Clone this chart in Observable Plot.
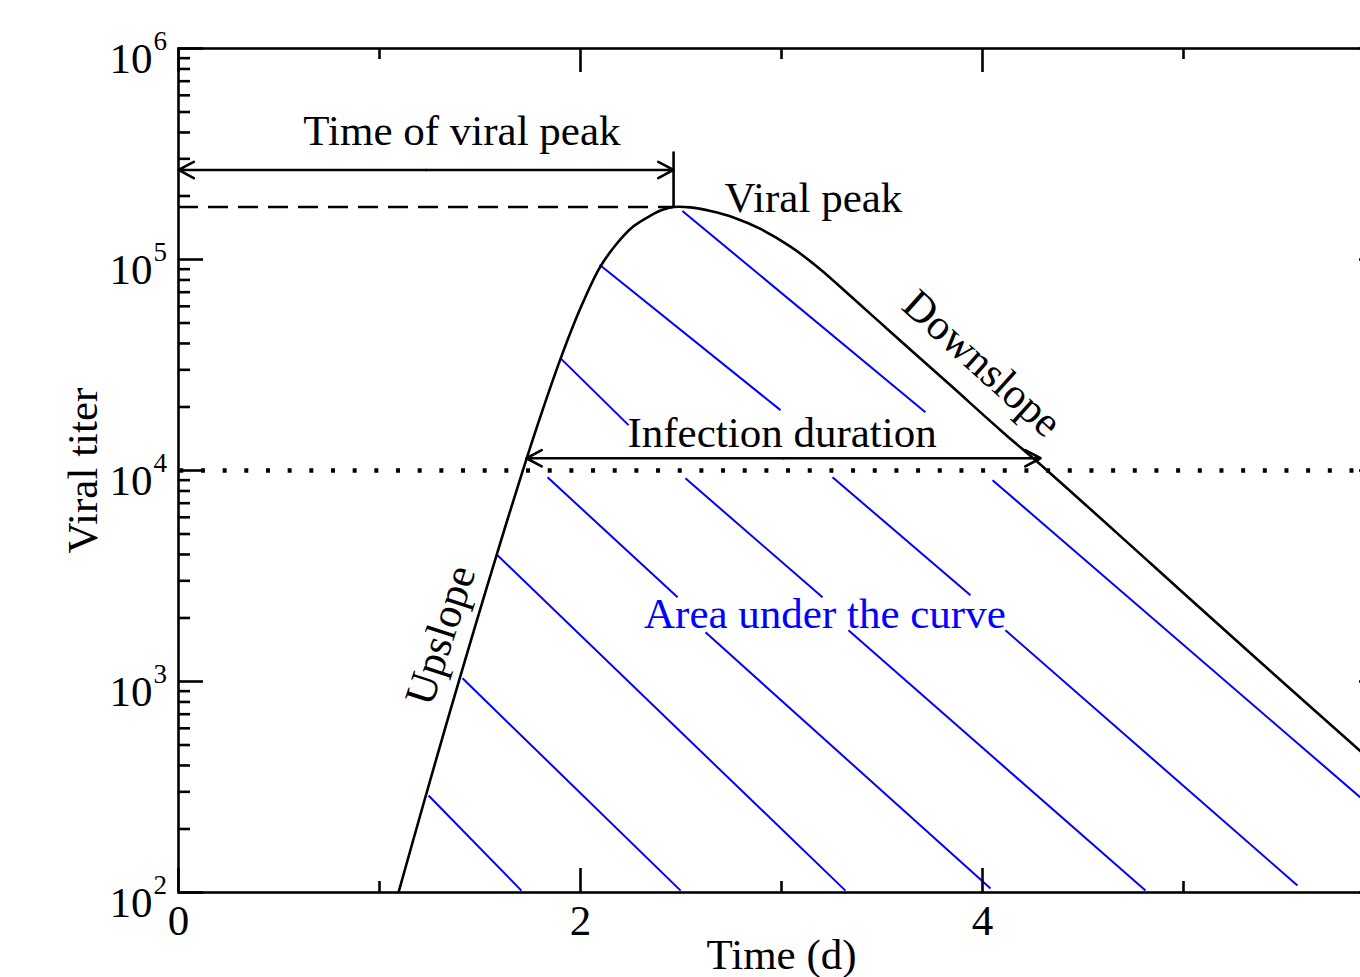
<!DOCTYPE html>
<html><head><meta charset="utf-8">
<script src="https://cdn.jsdelivr.net/npm/d3@7"></script>
<script src="https://cdn.jsdelivr.net/npm/@observablehq/plot@0.6"></script>
<style>
html,body{margin:0;padding:0;background:#fff;overflow:hidden;}
#chart svg{max-width:none;}
</style></head><body><div id="chart"></div>
<script>
// ---- data ----
const curveDays     = [1.0945, 1.2189, 1.3383, 1.4627, 1.5871, 1.7164, 1.8109, 1.9055, 2.0, 2.0945, 2.1791, 2.2637, 2.3483, 2.4080, 2.4627, 2.5473, 2.6468, 2.7612, 2.8955, 3.0448, 3.1940, 3.3433, 3.4925, 3.6418, 3.8408, 4.0896, 4.3284, 4.8358, 5.3333, 6.0];
const curveLogTiter = [2.0000, 2.4207, 2.8167, 3.2198, 3.6135, 4.0104, 4.2850, 4.5421, 4.7697, 4.9594, 5.0733, 5.1572, 5.2080, 5.2355, 5.2490, 5.2470, 5.2297, 5.1994, 5.1449, 5.0609, 4.9528, 4.8266, 4.6995, 4.5724, 4.4036, 4.1911, 3.9943, 3.5603, 3.1335, 2.5691];

const peakDay = 2.463;
const peakTiter = 177400;
const peakTickTop = 323400;
const threshold = 1e4;

// double-headed arrows: start day, end day, titer level
const spanStart = [0, 1.731];
const spanEnd   = [2.463, 4.289];
const spanTiter = [265700, 11430];

// hatch segments (days, log10 titer)
const hatchDay1 = [2.507, 2.095, 1.905, 1.836, 2.522, 3.254, 4.050, 2.622, 3.333, 4.114, 1.587, 1.413, 1.244];
const hatchLog1 = [5.230, 4.975, 4.528, 3.968, 3.963, 3.968, 3.954, 3.233, 3.243, 3.243, 3.598, 3.015, 2.460];
const hatchDay2 = [3.716, 2.995, 2.239, 2.483, 3.204, 3.940, 6.000, 4.040, 4.811, 5.567, 3.318, 2.498, 1.706];
const hatchLog2 = [4.276, 4.286, 4.215, 3.399, 3.399, 3.409, 2.352, 2.019, 2.009, 2.033, 2.009, 2.009, 2.009];

const annText   = ["Time of viral peak", "Viral peak", "Infection duration", "Area under the curve", "Upslope", "Downslope"];
const annDay    = [1.410, 3.159, 3.003, 3.216, 1.304, 3.998];
const annTiter  = [406400, 195600, 15030, 2083, 1655, 32100];
const annRotate = [0, 0, 0, 0, -72, 42];
const annColor  = ["#000", "#000", "#000", "#0000ff", "#000", "#000"];

const xMajor = [0, 2, 4, 6];
const xLabelTicks = [0, 2, 4];
const xTickLabels = ["0", "2", "4"];
const xMinor = [1, 3, 5];
const yMajor = [1e2, 1e3, 1e4, 1e5, 1e6];
const yExponents = ["2", "3", "4", "5", "6"];
const yMinor = [200,300,400,500,600,700,800,900, 2000,3000,4000,5000,6000,7000,8000,9000,
  20000,30000,40000,50000,60000,70000,80000,90000, 200000,300000,400000,500000,600000,700000,800000,900000];

// ---- build tables ----
const curve = curveDays.map((d, i) => ({day: d, titer: 10 ** curveLogTiter[i]}));
const hatch = hatchDay1.map((d, i) => ({x1: d, y1: 10 ** hatchLog1[i], x2: hatchDay2[i], y2: 10 ** hatchLog2[i]}));
const arrows = [];
spanStart.forEach((s, i) => {
  const mid = (s + spanEnd[i]) / 2;
  arrows.push({x1: mid, x2: s, y: spanTiter[i]});
  arrows.push({x1: mid, x2: spanEnd[i], y: spanTiter[i]});
});
const ann = annText.map((t, i) => ({text: t, day: annDay[i], titer: annTiter[i], rotate: annRotate[i], color: annColor[i]}));

const W = 1420, H = 1000;
const mL = 178, mR = 36, mT = 48, mB = 108;
const plotW = W - mL - mR;
const plotH = H - mT - mB;
const SW = 2.6;
const FS = 43;

const chart = Plot.plot({
  width: W, height: H,
  marginLeft: mL, marginRight: mR, marginTop: mT, marginBottom: mB,
  style: {fontFamily: "'Liberation Serif', 'Times New Roman', serif", background: "#fff", color: "#000"},
  x: {domain: [0, 6], axis: null},
  y: {type: "log", domain: [1e2, 1e6], axis: null},
  color: {type: "identity"},
  marks: [
    Plot.link(hatch, {x1: "x1", y1: "y1", x2: "x2", y2: "y2", stroke: "#0000ff", strokeWidth: 2, clip: true}),
    Plot.ruleY([threshold], {stroke: "#000", strokeWidth: 4.5, strokeDasharray: "4,17.67", strokeDashoffset: -1.3}),
    Plot.ruleY([peakTiter], {x1: 0, x2: peakDay, stroke: "#000", strokeWidth: SW, strokeDasharray: "20,10"}),
    Plot.ruleX([peakDay], {y1: peakTickTop, y2: peakTiter, stroke: "#000", strokeWidth: SW}),
    Plot.arrow(arrows, {x1: "x1", x2: "x2", y1: "y", y2: "y", stroke: "#000", strokeWidth: SW, headLength: 10, headAngle: 56}),
    Plot.line(curve, {x: "day", y: "titer", curve: "catmull-rom", stroke: "#000", strokeWidth: SW, clip: true}),
    // ticks (inward, all four sides)
    Plot.tickY(yMajor, {y: d => d, insetRight: plotW - 25, stroke: "#000", strokeWidth: SW}),
    Plot.tickY(yMajor, {y: d => d, insetLeft: plotW - 25, stroke: "#000", strokeWidth: SW}),
    Plot.tickY(yMinor, {y: d => d, insetRight: plotW - 12, stroke: "#000", strokeWidth: SW}),
    Plot.tickY(yMinor, {y: d => d, insetLeft: plotW - 12, stroke: "#000", strokeWidth: SW}),
    Plot.tickX(xMajor, {x: d => d, insetTop: plotH - 24, stroke: "#000", strokeWidth: SW}),
    Plot.tickX(xMajor, {x: d => d, insetBottom: plotH - 24, stroke: "#000", strokeWidth: SW}),
    Plot.tickX(xMinor, {x: d => d, insetTop: plotH - 11, stroke: "#000", strokeWidth: SW}),
    Plot.tickX(xMinor, {x: d => d, insetBottom: plotH - 11, stroke: "#000", strokeWidth: SW}),
    Plot.frame({stroke: "#000", strokeWidth: SW}),
    // tick labels
    Plot.text(yMajor, {frameAnchor: "left", y: d => d, text: () => "10", textAnchor: "end", lineAnchor: "middle", dx: -26, dy: 11, fontSize: FS, fill: "#000"}),
    Plot.text(yMajor, {frameAnchor: "left", y: d => d, text: (d, i) => yExponents[i], textAnchor: "start", lineAnchor: "middle", dx: -25, dy: -7, fontSize: 27, fill: "#000"}),
    Plot.text(xLabelTicks, {x: d => d, frameAnchor: "bottom", text: (d, i) => xTickLabels[i], textAnchor: "middle", lineAnchor: "middle", dy: 29, fontSize: FS, fill: "#000"}),
    // axis titles
    Plot.text(["Time (d)"], {frameAnchor: "bottom", textAnchor: "middle", lineAnchor: "middle", dy: 63, fontSize: FS, fill: "#000"}),
    Plot.text(["Viral titer"], {frameAnchor: "left", rotate: -90, textAnchor: "middle", lineAnchor: "middle", dx: -95, fontSize: FS, fill: "#000"}),
    // annotations
    Plot.text(ann, {x: "day", y: "titer", text: "text", rotate: "rotate", fill: "color", fontSize: FS})
  ]
});
document.getElementById("chart").appendChild(chart);
</script>
</body></html>
